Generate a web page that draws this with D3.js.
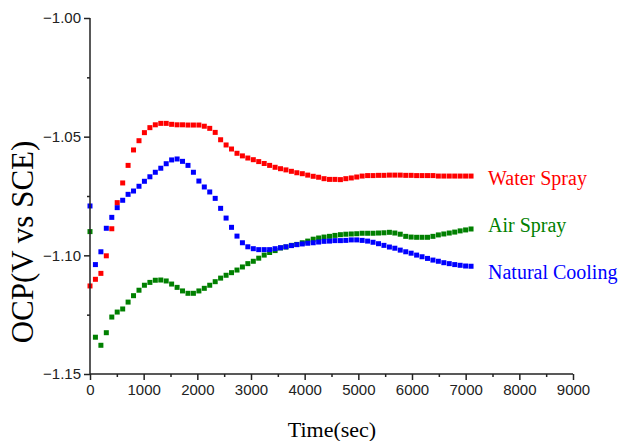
<!DOCTYPE html>
<html>
<head>
<meta charset="utf-8">
<script src="https://cdn.jsdelivr.net/npm/d3@7"></script>
<style>
  body { margin: 0; background: #fff; }
  svg { display: block; }
</style>
</head>
<body>
<svg id="chart"></svg>
<script>
// sample times (s), one reading roughly every 101 s
var times = [0, 101, 203, 304, 406, 507, 609, 710, 811, 913,
  1014, 1116, 1217, 1319, 1420, 1521, 1623, 1724, 1826, 1927,
  2029, 2130, 2231, 2333, 2434, 2536, 2637, 2739, 2840, 2941,
  3043, 3144, 3246, 3347, 3449, 3550, 3651, 3753, 3854, 3956,
  4057, 4159, 4260, 4361, 4463, 4564, 4666, 4767, 4869, 4970,
  5071, 5173, 5274, 5376, 5477, 5579, 5680, 5781, 5883, 5984,
  6086, 6187, 6289, 6390, 6491, 6593, 6694, 6796, 6897, 6999, 7100];

var waterSpray = [-1.1129, -1.1101, -1.1076, -1.1002, -1.0888, -1.0778, -1.0695, -1.0621, -1.0556, -1.0517,
  -1.0483, -1.0462, -1.0450, -1.0444, -1.0444, -1.0448, -1.0450, -1.0450, -1.0451, -1.0451,
  -1.0451, -1.0456, -1.0465, -1.0482, -1.0513, -1.0535, -1.0552, -1.0570, -1.0581, -1.0590,
  -1.0597, -1.0605, -1.0613, -1.0621, -1.0629, -1.0635, -1.0640, -1.0646, -1.0652, -1.0656,
  -1.0662, -1.0667, -1.0671, -1.0677, -1.0680, -1.0680, -1.0681, -1.0677, -1.0674, -1.0670,
  -1.0666, -1.0664, -1.0664, -1.0663, -1.0663, -1.0662, -1.0662, -1.0662, -1.0663, -1.0663,
  -1.0664, -1.0664, -1.0664, -1.0664, -1.0666, -1.0666, -1.0666, -1.0666, -1.0666, -1.0666, -1.0666];

var airSpray = [-1.0900, -1.1345, -1.1379, -1.1326, -1.1260, -1.1239, -1.1226, -1.1197, -1.1170, -1.1147,
  -1.1126, -1.1114, -1.1105, -1.1104, -1.1108, -1.1121, -1.1135, -1.1150, -1.1160, -1.1160,
  -1.1150, -1.1139, -1.1126, -1.1111, -1.1096, -1.1084, -1.1073, -1.1062, -1.1049, -1.1035,
  -1.1025, -1.1012, -1.0999, -1.0988, -1.0980, -1.0969, -1.0965, -1.0958, -1.0954, -1.0947,
  -1.0940, -1.0932, -1.0927, -1.0923, -1.0920, -1.0916, -1.0913, -1.0911, -1.0910, -1.0909,
  -1.0907, -1.0907, -1.0907, -1.0906, -1.0905, -1.0903, -1.0906, -1.0911, -1.0920, -1.0923,
  -1.0924, -1.0924, -1.0924, -1.0920, -1.0914, -1.0910, -1.0906, -1.0902, -1.0897, -1.0893, -1.0889];

var naturalCooling = [-1.0792, -1.1039, -1.0985, -1.0886, -1.0840, -1.0799, -1.0768, -1.0743, -1.0729, -1.0709,
  -1.0688, -1.0669, -1.0650, -1.0633, -1.0614, -1.0598, -1.0594, -1.0604, -1.0621, -1.0650,
  -1.0687, -1.0712, -1.0733, -1.0760, -1.0802, -1.0843, -1.0882, -1.0919, -1.0947, -1.0964,
  -1.0972, -1.0976, -1.0976, -1.0976, -1.0972, -1.0968, -1.0964, -1.0959, -1.0955, -1.0952,
  -1.0949, -1.0947, -1.0944, -1.0941, -1.0940, -1.0938, -1.0938, -1.0937, -1.0935, -1.0935,
  -1.0937, -1.0940, -1.0945, -1.0951, -1.0958, -1.0965, -1.0970, -1.0978, -1.0985, -1.0991,
  -1.0999, -1.1006, -1.1013, -1.1020, -1.1025, -1.1031, -1.1035, -1.1039, -1.1042, -1.1045, -1.1046];

var seriesNames = ["Water Spray", "Air Spray", "Natural Cooling"];
var seriesValues = [waterSpray, airSpray, naturalCooling];
var seriesColors = ["#ff0000", "#008000", "#0000ff"];

var xMajor = [0, 1000, 2000, 3000, 4000, 5000, 6000, 7000, 8000, 9000];
var xMinor = [500, 1500, 2500, 3500, 4500, 5500, 6500, 7500, 8500];
var yMajor = [-1.15, -1.10, -1.05, -1.00];
var yMinor = [-1.125, -1.075, -1.025];

var width = 630, height = 441;
var svg = d3.select("#chart").attr("width", width).attr("height", height);

var x = d3.scaleLinear().domain([0, 9000]).range([90, 573]);
var y = d3.scaleLinear().domain([-1.15, -1.00]).range([374, 18]);

var markSize = 5;

// markers (green first so blue sits on top where they cross)
[1, 2, 0].forEach(function(k) {
  svg.append("g")
    .selectAll("rect")
    .data(seriesValues[k])
    .enter().append("rect")
      .attr("x", function(d, i) { return x(times[i]) - markSize / 2; })
      .attr("y", function(d) { return y(d) - markSize / 2; })
      .attr("width", markSize)
      .attr("height", markSize)
      .attr("fill", seriesColors[k]);
});

// axes
var axisFont = "'Liberation Sans', Arial, sans-serif";
var serifFont = "'Liberation Serif', 'Times New Roman', serif";

var gx = svg.append("g").attr("transform", "translate(0,374)")
  .call(d3.axisBottom(x).tickValues(xMajor).tickFormat(d3.format("d")).tickSize(6).tickPadding(4));
svg.append("g").attr("transform", "translate(0,374)")
  .call(d3.axisBottom(x).tickValues(xMinor).tickFormat("").tickSize(3))
  .select(".domain").remove();

var gy = svg.append("g").attr("transform", "translate(90,0)")
  .call(d3.axisLeft(y).tickValues(yMajor).tickFormat(d3.format(".2f")).tickSize(6).tickPadding(3));
svg.append("g").attr("transform", "translate(90,0)")
  .call(d3.axisLeft(y).tickValues(yMinor).tickFormat("").tickSize(3))
  .select(".domain").remove();

svg.selectAll(".domain, .tick line")
  .attr("stroke", "#222")
  .attr("stroke-width", 1.5);
svg.selectAll(".domain").attr("d", function() { return d3.select(this).attr("d"); });
gx.select(".domain").attr("d", "M90,0H573");
gy.select(".domain").attr("d", "M0,18V374");

svg.selectAll(".tick text")
  .attr("font-family", axisFont)
  .attr("font-size", 15)
  .attr("fill", "#222");

// axis titles
svg.append("text")
  .attr("x", 332)
  .attr("y", 437)
  .attr("text-anchor", "middle")
  .attr("font-family", serifFont)
  .attr("font-size", 22)
  .text("Time(sec)");

svg.append("text")
  .attr("transform", "translate(33,242) rotate(-90)")
  .attr("text-anchor", "middle")
  .attr("font-family", serifFont)
  .attr("font-size", 31)
  .text("OCP(V vs SCE)");

// series labels at the right
var labelY = [185, 232, 279];
seriesNames.forEach(function(name, k) {
  svg.append("text")
    .attr("x", 488)
    .attr("y", labelY[k])
    .attr("font-family", serifFont)
    .attr("font-size", 20)
    .attr("fill", seriesColors[k])
    .text(name);
});
</script>
</body>
</html>
